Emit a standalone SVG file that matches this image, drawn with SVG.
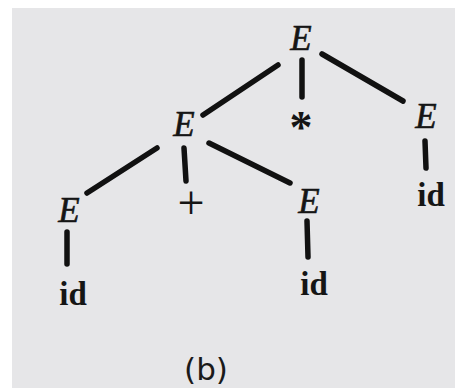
<svg xmlns="http://www.w3.org/2000/svg" width="455" height="388" viewBox="0 0 455 388">
<style>
.E{font-family:"Liberation Serif",serif;font-style:italic;font-size:35px;fill:#151515;stroke:#151515;stroke-width:0.6;text-anchor:middle}
.id{font-family:"Liberation Serif",serif;font-weight:bold;font-size:33px;fill:#151515;text-anchor:middle}
.star{font-family:"Liberation Serif",serif;font-weight:bold;font-size:46px;fill:#151515;text-anchor:middle}
.plus{font-family:"Liberation Serif",serif;font-size:48px;fill:#151515;text-anchor:middle}
.cap{font-family:"DejaVu Sans",sans-serif;font-size:31px;fill:#1a1a1a;text-anchor:middle}
.edge{stroke:#111;stroke-width:5.5;stroke-linecap:round;fill:none}
</style>
<rect x="0" y="0" width="455" height="388" fill="#ffffff"/>
<rect x="12" y="8" width="443" height="380" fill="#e6e6e8"/>
<g id="connectors">
<line class="edge" x1="278" y1="65" x2="203" y2="115"/>
<line class="edge" x1="302" y1="60" x2="302" y2="97"/>
<line class="edge" x1="322" y1="54" x2="403" y2="101"/>
<line class="edge" x1="425" y1="141" x2="426" y2="168"/>
<line class="edge" x1="157" y1="148" x2="87" y2="193"/>
<line class="edge" x1="184" y1="148" x2="186" y2="181"/>
<line class="edge" x1="209" y1="143" x2="290" y2="183"/>
<line class="edge" x1="67" y1="232" x2="67" y2="264"/>
<line class="edge" x1="307" y1="221" x2="308" y2="257"/>
</g>
<g id="n_root"><text class="E" x="301" y="50">E</text></g>
<g id="n_E1"><text class="E" x="184" y="136">E</text></g>
<g id="n_star"><text class="star" x="301" y="143">*</text></g>
<g id="n_E2"><text class="E" x="426" y="128">E</text></g>
<g id="n_id3"><text class="id" x="431" y="206">id</text></g>
<g id="n_E3"><text class="E" x="69" y="222">E</text></g>
<g id="n_plus"><text class="plus" x="191" y="219">+</text></g>
<g id="n_E4"><text class="E" x="309" y="213">E</text></g>
<g id="n_id1"><text class="id" x="73" y="305">id</text></g>
<g id="n_id2"><text class="id" x="314" y="295">id</text></g>
<g id="caption"><text class="cap" x="206" y="380">(b)</text></g>
</svg>
